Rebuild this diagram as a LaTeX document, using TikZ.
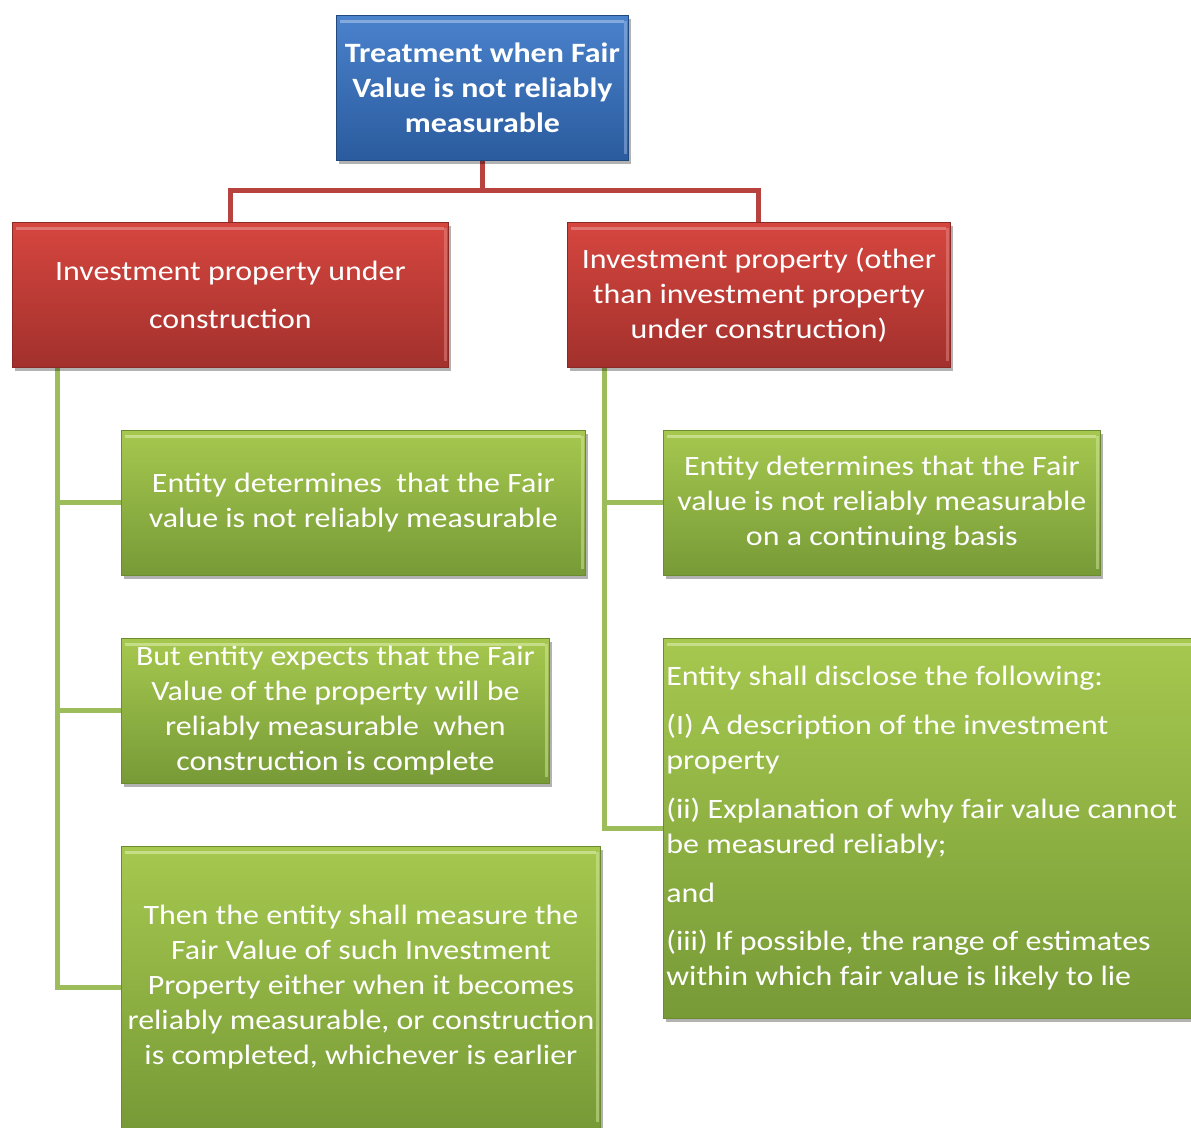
\documentclass[tikz,border=0pt]{standalone}
\usepackage{fontspec}
\setmainfont{Carlito}[FakeStretch=1.14]
\usetikzlibrary{shadows,backgrounds}
\definecolor{bluetop}{HTML}{4A82CC}
\definecolor{bluebot}{HTML}{2A5B9E}
\definecolor{blueedge}{HTML}{9DBBE6}
\definecolor{redtop}{HTML}{D6463F}
\definecolor{redbot}{HTML}{A2302C}
\definecolor{rededge}{HTML}{E58A86}
\definecolor{greentop}{HTML}{A6C84F}
\definecolor{greenbot}{HTML}{779A37}
\definecolor{greenedge}{HTML}{D4E8A0}
\definecolor{redconn}{HTML}{B8423E}
\definecolor{greenconn}{HTML}{9DBD5B}
\tikzset{
  box/.style={rectangle, inner sep=0pt, anchor=north west, text=white, align=center,
    font=\fontsize{28}{35}\selectfont,
    drop shadow={shadow xshift=3pt, shadow yshift=-4pt, opacity=0.3, fill=black},
    path picture={
      \draw[#1, opacity=0.7, line width=3pt]
        ([yshift=-6pt,xshift=4pt]path picture bounding box.north west) --
        ([yshift=-6pt,xshift=-4pt]path picture bounding box.north east);
      \draw[#1, opacity=0.5, line width=3pt]
        ([xshift=-3pt,yshift=-6pt]path picture bounding box.north east) --
        ([xshift=-3pt,yshift=6pt]path picture bounding box.south east);
    }},
  bluebox/.style={box=blueedge, top color=bluetop, bottom color=bluebot, draw=bluebot!80!black, line width=0.8pt},
  redbox/.style={box=rededge, top color=redtop, bottom color=redbot, draw=redbot!85!black, line width=0.8pt},
  greenbox/.style={box=greenedge, top color=greentop, bottom color=greenbot, draw=greenbot!90!black, line width=0.8pt},
  redline/.style={draw=redconn, line width=5pt},
  greenline/.style={draw=greenconn, line width=5pt},
}
\begin{document}
\begin{tikzpicture}[x=1pt,y=-1pt]
\clip (0,0) rectangle (1191,1127);

\node[bluebox, minimum width=292pt, minimum height=145pt] (top) at (336,15)
  {\bfseries Treatment when Fair\\\bfseries Value is not reliably\\\bfseries measurable};

\node[redbox, minimum width=436pt, minimum height=145pt, font=\fontsize{28}{48}\selectfont] (l) at (12,222)
  {Investment property under\\construction};
\node[redbox, minimum width=383pt, minimum height=145pt] (r) at (567,222)
  {Investment property (other\\than investment property\\under construction)};

\node[greenbox, minimum width=464pt, minimum height=145pt] (g1) at (121,430)
  {Entity determines\ \ that the Fair\\value is not reliably measurable};
\node[greenbox, minimum width=428pt, minimum height=145pt] (g2) at (121,638)
  {But entity expects that the Fair\\Value of the property will be\\reliably measurable\ \ when\\construction is complete};
\node[greenbox, minimum width=479pt, minimum height=282pt] (g3) at (121,846)
  {Then the entity shall measure the\\Fair Value of such Investment\\Property either when it becomes\\reliably measurable, or construction\\is completed, whichever is earlier};

\node[greenbox, minimum width=437pt, minimum height=145pt] (g4) at (663,430)
  {Entity determines that the Fair\\value is not reliably measurable\\on a continuing basis};
\node[greenbox, minimum height=380pt, text width=534pt, inner xsep=3pt, align=flush left] (g5) at (663,638)
  {Entity shall disclose the following:\\[14pt]
   (I) A description of the investment\\property\\[14pt]
   (ii) Explanation of why fair value cannot\\be measured reliably;\\[14pt]
   and\\[13pt]
   (iii) If possible, the range of estimates\\within which fair value is likely to lie};

\begin{scope}[on background layer]
\draw[redline] (top.south) -- ++(0,30) -| (l.north);
\draw[redline] (top.south) -- ++(0,30) -| (r.north);
\draw[greenline] ([xshift=45pt]l.south west) |- (g1.west);
\draw[greenline] ([xshift=45pt]l.south west) |- (g2.west);
\draw[greenline] ([xshift=45pt]l.south west) |- (g3.west);
\draw[greenline] ([xshift=37pt]r.south west) |- (g4.west);
\draw[greenline] ([xshift=37pt]r.south west) |- (g5.west);
\end{scope}
\end{tikzpicture}
\end{document}
